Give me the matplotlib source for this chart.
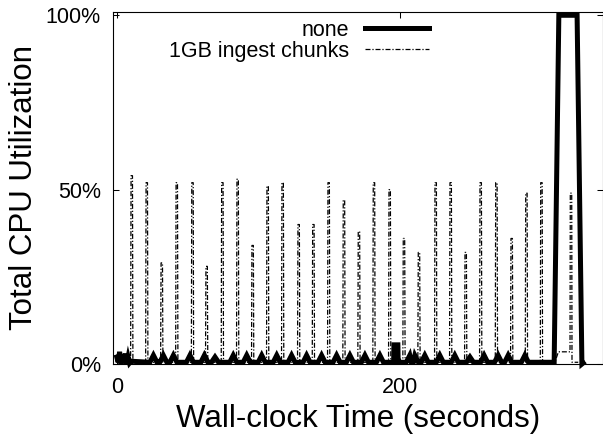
import matplotlib.pyplot as plt

plt.rcParams['font.family'] = ['Liberation Sans', 'DejaVu Sans']

# "1GB ingest chunks": one short burst per chunk, time (s) and peak CPU (%)
ingest_spike_t = [10.1, 20.7, 31.3, 41.9, 53.0, 63.0, 74.1, 84.9, 95.5, 106.1,
                  116.7, 128.0, 138.4, 149.2, 160.0, 170.6, 181.2, 192.3, 202.4,
                  213.0, 224.8, 235.4, 246.0, 256.6, 267.7, 278.5, 288.9, 299.5]
ingest_spike_v = [54, 52, 29, 52, 52, 28, 52, 53, 34, 51,
                  52, 40, 40, 52, 47, 38, 52, 50, 36,
                  32, 52, 52, 32, 52, 52, 36, 49, 52]
ingest_idle = 0.5
# end of the run (low plateau, last chunk)
ingest_tail_t = [309.5, 312.0, 320.2, 320.4, 321.4, 321.6, 326.0]
ingest_tail_v = [0.5, 3.5, 3.5, 49, 49, 0.5, 0.5]

# "none": noisy start, small bumps, one short block, then the final 100% burst
none_start_t = [0, 1, 2, 3, 4, 5, 6, 7, 8, 9, 10]
none_start_v = [2.0, 0.5, 3.5, 0.0, 2.5, 0.5, 3.0, 0.0, 2.0, 0.3, 0.8]
none_bump_t = [25.9, 32.9, 40.0, 51.7, 61.9, 69.4, 82.3, 91.8, 102.4, 113.0,
               123.5, 134.1, 144.7, 155.3, 164.7, 175.3, 185.9, 207.0, 210.6,
               217.6, 228.2, 238.8, 249.5, 259.5, 269.4, 276.5, 288.3]
none_bump_v = [2.5, 2.5, 2.5, 2.5, 2.5, 2.0, 2.5, 2.5, 2.5, 2.5,
               2.5, 2.5, 2.5, 2.5, 2.5, 2.5, 2.5, 2.5, 2.5,
               2.5, 2.5, 2.5, 2.0, 2.5, 2.5, 2.5, 2.5]
none_idle = 0.5
none_block_t = [195.6, 195.8, 198.6, 198.8]
none_block_v = [0.5, 5.5, 5.5, 0.5]
none_burst_t = [309.0, 312.3, 325.2, 328.6, 329.5]
none_burst_v = [0.5, 100, 100, 0.0, 0.3]

xticks = [0, 200]
yticks = [0, 50, 100]
ytick_labels = ['0%', '50%', '100%']

# build the polylines
ingest_pts = [(0, ingest_idle)]
for t, v in zip(ingest_spike_t, ingest_spike_v):
    ingest_pts += [(t - 0.3, ingest_idle), (t, v), (t + 1.0, v), (t + 1.3, ingest_idle)]
ingest_pts += list(zip(ingest_tail_t, ingest_tail_v))
ingest_pts.sort()

none_pts = list(zip(none_start_t, none_start_v))
for t, v in zip(none_bump_t, none_bump_v):
    none_pts += [(t - 2.5, none_idle), (t, v), (t + 2.5, none_idle)]
none_pts += list(zip(none_block_t, none_block_v))
none_pts += list(zip(none_burst_t, none_burst_v))
none_pts.sort()

fig = plt.figure(figsize=(6.03, 4.37), dpi=100)
ax = fig.add_axes([0.188, 0.167, 0.812, 0.806])

ax.plot([p[0] for p in none_pts], [p[1] for p in none_pts], color='black',
        lw=3.6, solid_joinstyle='miter', clip_on=False, label='none', zorder=3)
ax.plot([p[0] for p in ingest_pts], [p[1] for p in ingest_pts], color='black',
        lw=0.9, linestyle=(0, (4, 1.5, 1, 1.5)), label='1GB ingest chunks', zorder=2)

ax.set_xlim(-2.4, 343.5)
ax.set_ylim(0, 101)
ax.set_xticks(xticks)
ax.set_yticks(yticks)
ax.set_yticklabels(ytick_labels)
ax.tick_params(direction='in', length=4.3, width=0.75, top=True, right=True,
               labelsize=15.5, pad=9)
for s in ax.spines.values():
    s.set_linewidth(0.8)

ax.set_xlabel('Wall-clock Time (seconds)', fontsize=22.5)
ax.set_ylabel('Total CPU Utilization', fontsize=22.5)
ax.xaxis.set_label_coords(0.5, -0.113)
ax.yaxis.set_label_coords(-0.151, 0.5)

ax.legend(loc='upper right', bbox_to_anchor=(0.645, 0.977), frameon=False,
          markerfirst=False, handlelength=3.0, handletextpad=0.7,
          labelspacing=0.0, borderaxespad=0, borderpad=0, fontsize=15.5)

fig.savefig('out.png', dpi=100)
